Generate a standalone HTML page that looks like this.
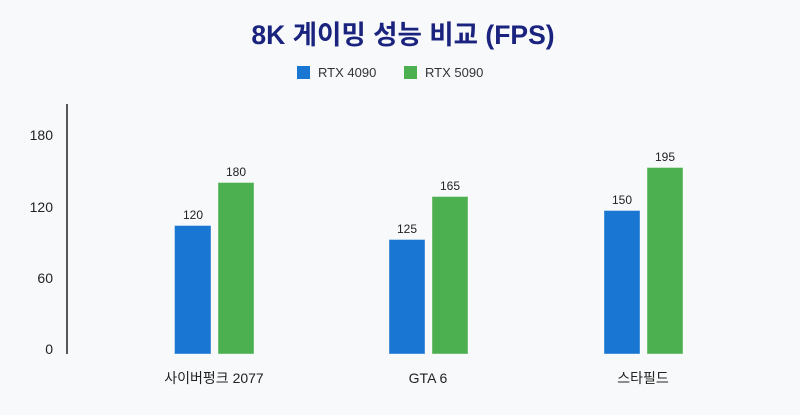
<!DOCTYPE html><html><head><meta charset="utf-8"><style>
body{margin:0;width:800px;height:410px;background:#f8f9fb;overflow:hidden}
text{font-family:"Liberation Sans","Noto Sans CJK KR",sans-serif}
</style></head><body>
<svg width="800" height="410" xmlns="http://www.w3.org/2000/svg">
<text x="403" y="44" text-anchor="middle" font-size="26.5" font-weight="bold" fill="#1a237e">8K 게이밍 성능 비교 (FPS)</text>
<rect x="297" y="66" width="13" height="13" fill="#1976d2"/>
<text x="318" y="77" font-size="13" fill="#333">RTX 4090</text>
<rect x="404" y="66" width="13" height="13" fill="#4caf50"/>
<text x="425" y="77" font-size="13" fill="#333">RTX 5090</text>
<line x1="67" y1="104" x2="67" y2="354" stroke="#222" stroke-width="1.5"/>
<g font-size="14" fill="#222" text-anchor="end">
<text x="53" y="140">180</text><text x="53" y="212">120</text><text x="53" y="283">60</text><text x="53" y="354">0</text></g>
<g stroke-width="1" stroke-opacity="0.4" stroke="#fff">
<rect x="174.5" y="225.5" width="36.5" height="128.5" fill="#1976d2"/>
<rect x="218" y="182.5" width="36" height="171.5" fill="#4caf50"/>
<rect x="389" y="239.5" width="36" height="114.5" fill="#1976d2"/>
<rect x="432" y="196.5" width="36" height="157.5" fill="#4caf50"/>
<rect x="604" y="210.5" width="36" height="143.5" fill="#1976d2"/>
<rect x="647" y="167.5" width="36" height="186.5" fill="#4caf50"/>
</g>
<g font-size="12" fill="#222" text-anchor="middle">
<text x="193" y="219">120</text><text x="236" y="176">180</text>
<text x="407" y="233">125</text><text x="450" y="190">165</text>
<text x="622" y="204">150</text><text x="665" y="161">195</text></g>
<g font-size="14" fill="#222" text-anchor="middle">
<text x="214" y="383">사이버펑크 2077</text><text x="428" y="383">GTA 6</text><text x="643" y="383">스타필드</text></g>
</svg></body></html>
